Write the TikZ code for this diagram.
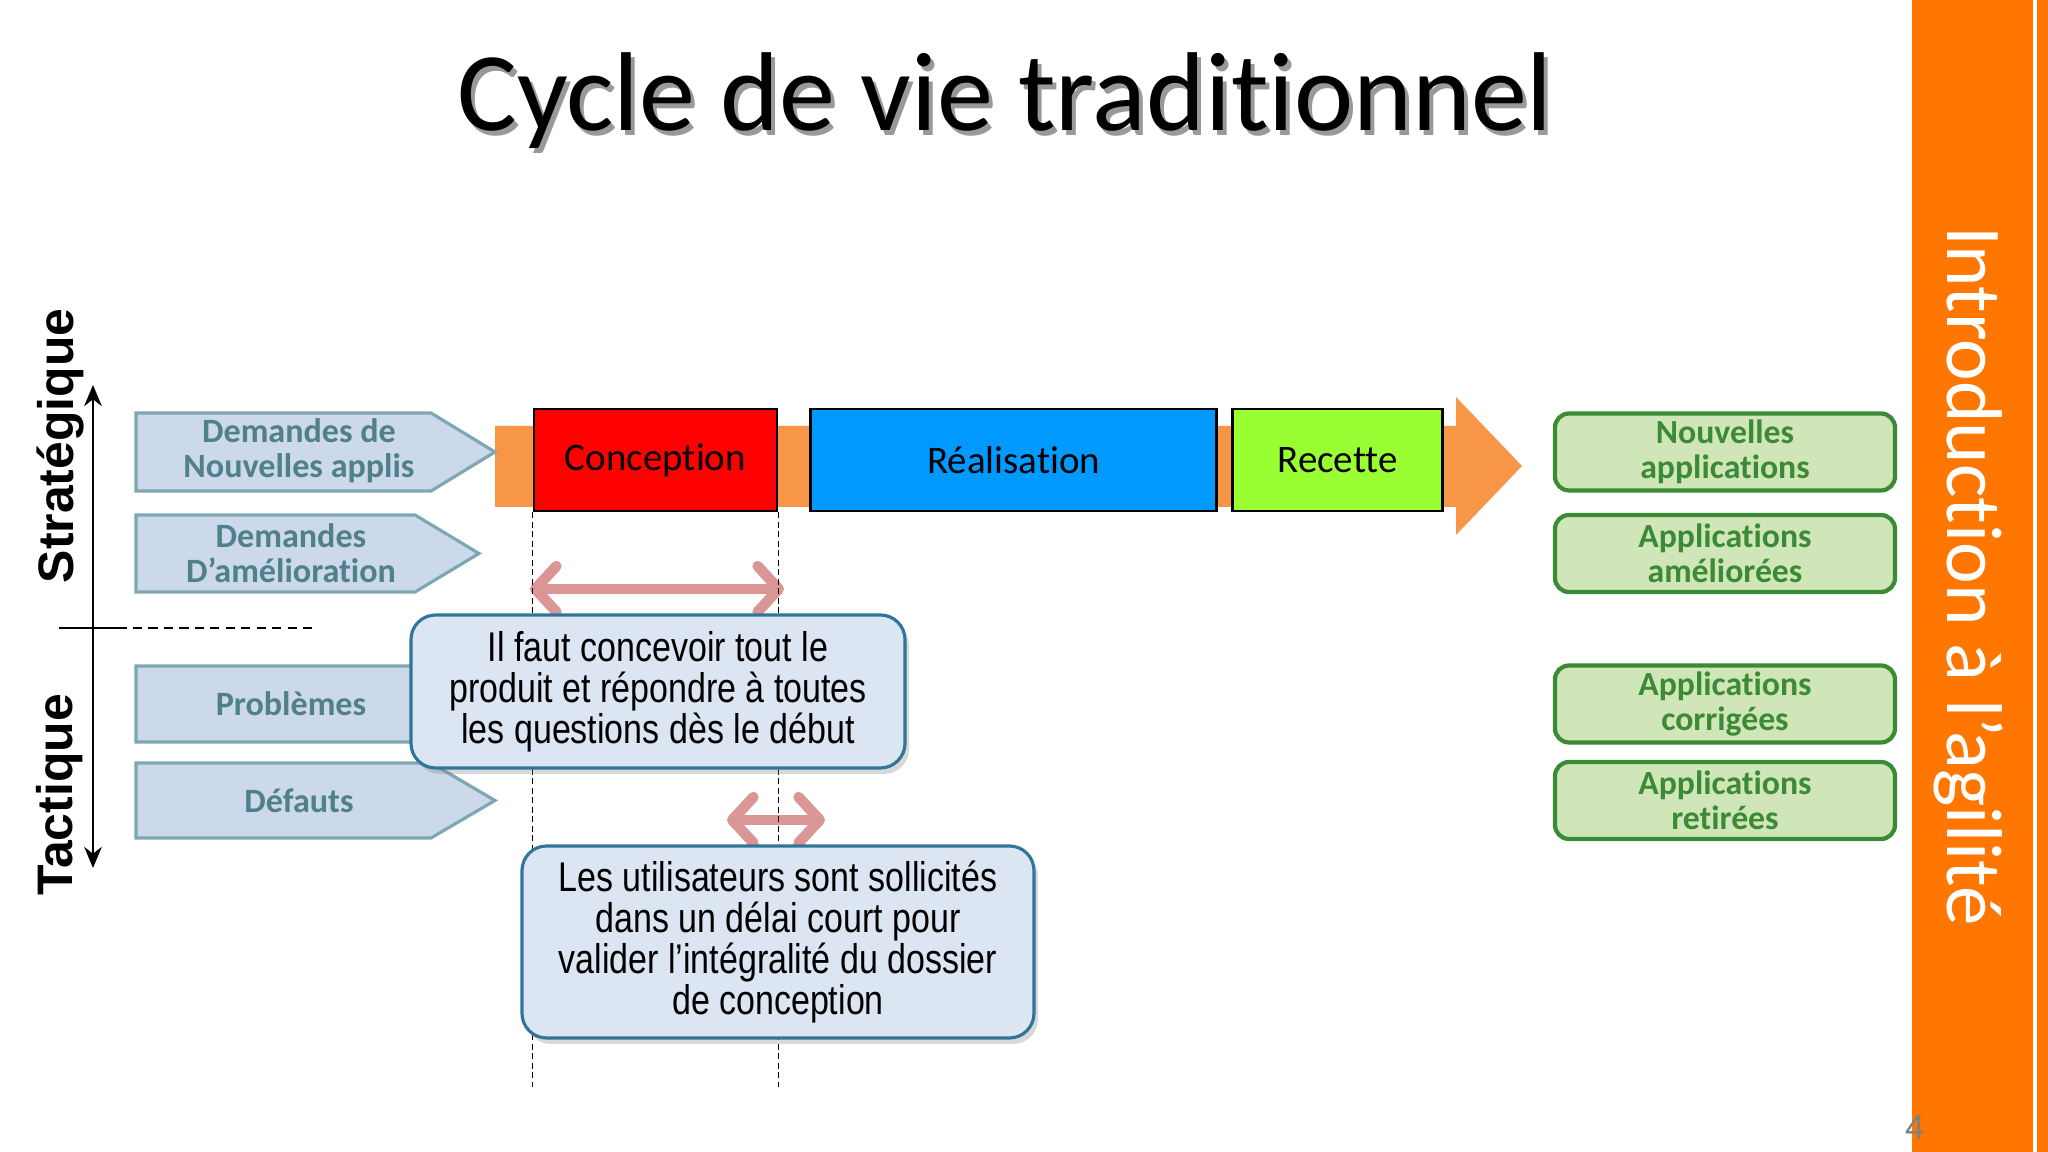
\documentclass[tikz,border=0pt]{standalone}
\usepackage{fontspec}
\setmainfont[Ligatures={TeX,NoCommon}]{Carlito}
\newfontfamily\arialfont{Liberation Sans}
\newfontfamily\narrowfont[FakeStretch=0.82]{Liberation Sans}
\usetikzlibrary{arrows.meta, positioning, shadows, calc}
\definecolor{bandorange}{HTML}{F79646}
\definecolor{sidebar}{HTML}{FF7600}
\definecolor{concred}{HTML}{FF0000}
\definecolor{realblue}{HTML}{0099FF}
\definecolor{recgreen}{HTML}{99FF33}
\definecolor{chevfill}{HTML}{CBD9EA}
\definecolor{chevline}{HTML}{7FA7B1}
\definecolor{chevtext}{HTML}{4F808C}
\definecolor{outfill}{HTML}{D0E6B8}
\definecolor{outgreen}{HTML}{3B8A35}
\definecolor{notefill}{HTML}{DCE6F2}
\definecolor{noteline}{HTML}{31759B}
\definecolor{pinkarrow}{HTML}{D99694}

\begin{document}
\begin{tikzpicture}[
  phase/.style={draw=black, line width=0.8pt, minimum height=1.02cm, inner sep=0pt,
                font=\fontsize{11.1}{13}\selectfont},
  chevron/.style={draw=chevline, fill=chevfill, line width=0.9pt},
  chevlabel/.style={text=chevtext, align=center, font=\fontsize{9.7}{10}\selectfont\bfseries},
  result/.style={draw=outgreen, fill=outfill, line width=1.2pt, rounded corners=4pt,
                 minimum width=3.40cm, minimum height=0.77cm, inner sep=0pt,
                 text=outgreen, align=center, font=\fontsize{9.6}{10}\selectfont\bfseries},
  notebox/.style={draw=noteline, fill=notefill, line width=0.9pt, rounded corners=7pt,
                  align=center, font=\narrowfont\fontsize{11.8}{11.7}\selectfont,
                  drop shadow={shadow xshift=0.04cm, shadow yshift=-0.06cm, opacity=0.3}},
  spanarrow/.style={pinkarrow, line width=3pt,
                    {Straight Barb[length=6pt,width=13pt,round]}-{Straight Barb[length=6pt,width=13pt,round]}},
  level/.style={rotate=90, font=\arialfont\bfseries\fontsize{14.2}{16}\selectfont}
]
  \useasboundingbox (0,0) rectangle (20.48,11.52);
  \fill[white] (0,0) rectangle (20.48,11.52);

  % Main flow
  \fill[bandorange] (4.95,7.26) -- (14.56,7.26) -- (14.56,7.55) -- (15.22,6.86)
        -- (14.56,6.17) -- (14.56,6.45) -- (4.95,6.45) -- cycle;
  \node[phase, fill=concred, minimum width=2.43cm] (concep) at (6.555,6.92) {Conception};
  \node[phase, fill=realblue, minimum width=4.06cm, right=0.31cm of concep] (realis) {Réalisation};
  \node[phase, fill=recgreen, minimum width=2.10cm, right=0.13cm of realis] (recette) {Recette};

  % Inputs
  \draw[chevron] (1.36,7.39) -- (4.31,7.39) -- (4.95,7.00) -- (4.31,6.61) -- (1.36,6.61) -- cycle;
  \draw[chevron] (1.36,6.37) -- (4.15,6.37) -- (4.79,5.985) -- (4.15,5.60) -- (1.36,5.60) -- cycle;
  \draw[chevron] (1.36,4.86) -- (4.31,4.86) -- (4.95,4.48) -- (4.31,4.10) -- (1.36,4.10) -- cycle;
  \draw[chevron] (1.36,3.89) -- (4.31,3.89) -- (4.95,3.515) -- (4.31,3.14) -- (1.36,3.14) -- cycle;
  \node[chevlabel] (dnew) at (2.99,7.01) {Demandes de\\Nouvelles applis};
  \node[chevlabel] (damel) at (2.91,5.99) {Demandes\\D’amélioration};
  \node[chevlabel] (probl) at (2.91,4.48) {Problèmes};
  \node[chevlabel] (defaut) at (2.99,3.515) {Défauts};

  % Levels
  \node[level] (strat) at (0.60,7.06) {Stratégique};
  \node[level] (tact) at (0.60,3.57) {Tactique};
  \coordinate (axtop) at (0.93,7.67);
  \coordinate (axbot) at (0.93,2.84);
  \draw[line width=0.8pt, {Stealth[length=6pt,width=5pt]}-{Stealth[length=6pt,width=5pt]}] (axtop) -- (axbot);
  \coordinate (sepa) at (0.59,5.24);
  \coordinate (sepb) at (1.27,5.24);
  \coordinate (sepc) at (1.33,5.24);
  \coordinate (sepd) at (3.17,5.24);
  \draw[line width=0.7pt] (sepa) -- (sepb);
  \draw[line width=0.7pt, dash pattern=on 2.6pt off 1.8pt] (sepc) -- (sepd);

  % Durations
  \coordinate (s1a) at (5.30,5.63);
  \coordinate (s1b) at (7.84,5.63);
  \coordinate (s2a) at (7.27,3.32);
  \coordinate (s2b) at (8.25,3.32);
  \draw[spanarrow] (s1a) -- (s1b);
  \draw[spanarrow] (s2a) -- (s2b);
  \coordinate (cl) at (concep.south west |- 0,0.65);
  \coordinate (cr) at (concep.south east |- 0,0.65);
  \draw[line width=0.45pt, dash pattern=on 1.7pt off 1pt] (concep.south west) -- (cl);
  \draw[line width=0.45pt, dash pattern=on 1.7pt off 1pt] (concep.south east) -- (cr);

  % Notes
  \node[notebox, minimum width=4.94cm, minimum height=1.53cm] (note1) at (6.58,4.605)
        {Il faut concevoir tout le\\produit et répondre à toutes\\les questions dès le début};
  \node[notebox, minimum width=5.12cm, minimum height=1.92cm] (note2) at (7.78,2.10)
        {Les utilisateurs sont sollicités\\dans un délai court pour\\valider l’intégralité du dossier\\de conception};

  % Outputs
  \node[result] (rnew) at (17.25,7.00) {Nouvelles\\applications};
  \node[result] (ramel) at (17.25,5.985) {Applications\\améliorées};
  \node[result] (rcorr) at (17.25,4.48) {Applications\\corrigées};
  \node[result] (rret) at (17.25,3.515) {Applications\\retirées};

  % Side bar
  \fill[sidebar] (19.12,0) rectangle (20.33,11.52);
  \fill[sidebar] (20.37,0) rectangle (20.48,11.52);
  \node[rotate=-90, text=white, font=\fontsize{22.5}{26}\selectfont] (intro) at (19.69,5.76)
        {Introduction à l’agilité};
  \node[text=black!50, font=\arialfont\fontsize{10}{12}\selectfont] (pagenum) at (19.15,0.25) {4};

  % Title
  \node[anchor=base, text=black!40, font=\fontsize{31.9}{36}\selectfont] (tshadow) at (10.09,10.16)
        {Cycle de vie traditionnel};
  \node[anchor=base, font=\fontsize{31.9}{36}\selectfont] (title) at (10.05,10.21)
        {Cycle de vie traditionnel};
\end{tikzpicture}
\end{document}
